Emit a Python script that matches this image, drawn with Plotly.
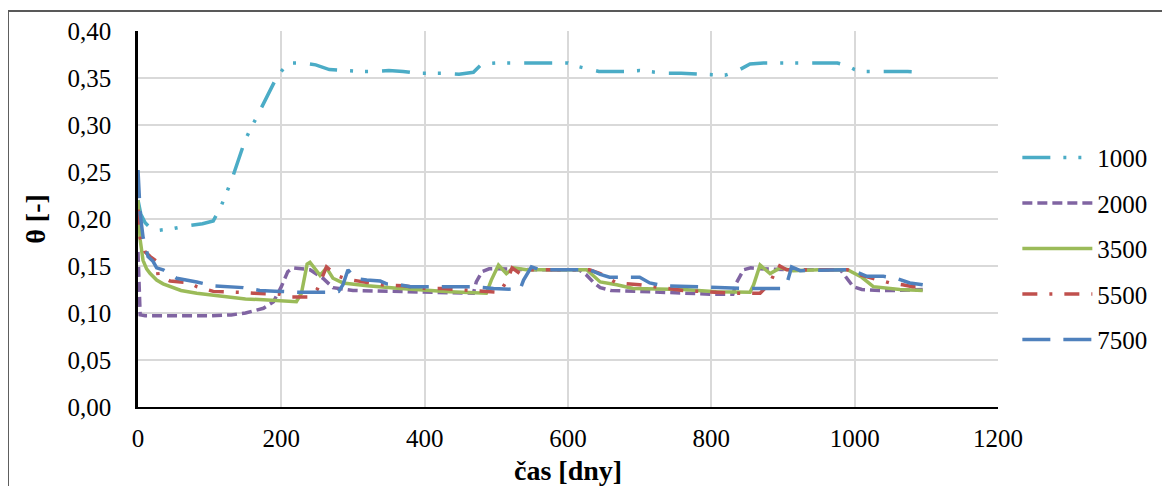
import plotly.graph_objects as go

# ---- data ----
days_1000 = [0, 4, 10, 18, 30, 50, 70, 90, 105, 115, 130, 150, 170, 193, 205, 216, 230, 248, 267, 286, 310, 328, 350, 370, 389, 428, 448, 468, 480, 500, 525, 560, 600, 615, 643, 664, 680, 700, 716, 736, 758, 780, 800, 819, 835, 854, 873, 914, 955, 976, 990, 1000, 1012, 1033, 1054, 1074, 1095]
theta_1000 = [0.22, 0.205, 0.196, 0.19, 0.188, 0.19, 0.193, 0.195, 0.198, 0.212, 0.24, 0.285, 0.315, 0.35, 0.362, 0.366, 0.366, 0.364, 0.359, 0.358, 0.357, 0.357, 0.358, 0.357, 0.355, 0.355, 0.354, 0.356, 0.365, 0.366, 0.366, 0.366, 0.366, 0.362, 0.357, 0.357, 0.357, 0.358, 0.357, 0.355, 0.355, 0.354, 0.354, 0.353, 0.357, 0.365, 0.366, 0.366, 0.366, 0.366, 0.363, 0.359, 0.357, 0.357, 0.357, 0.357, 0.356]

days_2000 = [0, 1, 3, 10, 50, 100, 130, 150, 175, 189, 200, 209, 217, 240, 258, 272, 300, 350, 412, 435, 468, 472, 480, 490, 501, 560, 615, 625, 635, 645, 660, 700, 760, 800, 830, 835, 845, 855, 868, 920, 980, 989, 998, 1010, 1035, 1060, 1095]
theta_2000 = [0.165, 0.13, 0.098, 0.097, 0.097, 0.097, 0.098, 0.1, 0.105, 0.112, 0.128, 0.144, 0.148, 0.146, 0.137, 0.127, 0.124, 0.123, 0.122, 0.121, 0.121, 0.133, 0.144, 0.147, 0.147, 0.146, 0.146, 0.141, 0.133, 0.127, 0.124, 0.123, 0.121, 0.12, 0.12, 0.132, 0.146, 0.148, 0.147, 0.146, 0.146, 0.137, 0.128, 0.125, 0.124, 0.124, 0.125]

days_3500 = [0, 3, 7, 12, 17, 26, 35, 45, 60, 82, 105, 128, 150, 175, 200, 221, 228, 236, 240, 254, 263, 272, 286, 320, 366, 400, 435, 486, 493, 503, 514, 524, 542, 580, 626, 645, 668, 691, 761, 807, 854, 859, 868, 882, 896, 914, 950, 990, 1010, 1026, 1063, 1095]
theta_3500 = [0.22, 0.178, 0.156, 0.147, 0.142, 0.135, 0.131, 0.128, 0.124, 0.121, 0.119, 0.117, 0.115, 0.114, 0.113, 0.112, 0.121, 0.152, 0.154, 0.140, 0.148, 0.137, 0.132, 0.129, 0.126, 0.124, 0.1227, 0.121, 0.135, 0.151, 0.142, 0.148, 0.146, 0.146, 0.146, 0.133, 0.13, 0.126, 0.125, 0.1225, 0.122, 0.13, 0.151, 0.142, 0.148, 0.145, 0.146, 0.146, 0.138, 0.128, 0.125, 0.124]

days_5500 = [0, 3, 10, 17, 26, 28, 45, 73, 82, 105, 142, 161, 198, 212, 240, 250, 263, 277, 291, 310, 340, 370, 403, 426, 463, 486, 505, 515, 522, 533, 547, 561, 600, 630, 645, 668, 700, 760, 830, 868, 882, 893, 905, 920, 990, 1000, 1010, 1030, 1049, 1067, 1081, 1095]
theta_5500 = [0.21, 0.18, 0.165, 0.16, 0.155, 0.14, 0.134, 0.132, 0.128, 0.123, 0.122, 0.121, 0.120, 0.117, 0.117, 0.125, 0.149, 0.14, 0.136, 0.134, 0.13, 0.129, 0.126, 0.126, 0.124, 0.123, 0.122, 0.135, 0.148, 0.142, 0.146, 0.146, 0.146, 0.146, 0.142, 0.132, 0.13, 0.124, 0.121, 0.121, 0.132, 0.151, 0.146, 0.146, 0.146, 0.143, 0.14, 0.136, 0.132, 0.13, 0.128, 0.128]

days_7500 = [0, 3, 7, 14, 21, 26, 35, 54, 82, 105, 147, 170, 198, 226, 268, 280, 286, 293, 303, 319, 338, 347, 366, 380, 426, 468, 496, 533, 538, 549, 561, 600, 630, 645, 658, 700, 714, 733, 770, 793, 830, 854, 891, 900, 905, 912, 924, 990, 998, 1017, 1040, 1058, 1077, 1095]
theta_7500 = [0.252, 0.206, 0.181, 0.16, 0.155, 0.148, 0.146, 0.137, 0.133, 0.129, 0.127, 0.124, 0.123, 0.122, 0.122, 0.123, 0.13, 0.146, 0.137, 0.135, 0.134, 0.131, 0.13, 0.128, 0.128, 0.128, 0.126, 0.125, 0.135, 0.149, 0.146, 0.146, 0.146, 0.141, 0.138, 0.138, 0.132, 0.129, 0.128, 0.128, 0.127, 0.126, 0.126, 0.126, 0.13, 0.149, 0.145, 0.146, 0.145, 0.139, 0.139, 0.137, 0.132, 0.13]

series_names = ["1000", "2000", "3500", "5500", "7500"]
x_ticks = [0, 200, 400, 600, 800, 1000, 1200]
y_ticks = [0.00, 0.05, 0.10, 0.15, 0.20, 0.25, 0.30, 0.35, 0.40]

# ---- styles ----
colors = ["#4BACC6", "#8064A2", "#9BBB59", "#C0504D", "#4F81BD"]
dashes = ["28px,13px,3px,12px,3px,14px", "10px,5px", "solid", "15px,12px,3px,12px", "28px,13px"]
data = [(days_1000, theta_1000), (days_2000, theta_2000), (days_3500, theta_3500),
        (days_5500, theta_5500), (days_7500, theta_7500)]

FONT = "Liberation Serif"

fig = go.Figure()
for name, (xs, ys), c, d in zip(series_names, data, colors, dashes):
    fig.add_trace(go.Scatter(x=xs, y=ys, name=name, mode="lines",
                             line=dict(color=c, width=3.5, dash=d),
                             legendgroup=name))

# the page body adds an 8px offset; the figure is sized/margined to compensate
fig.update_layout(
    width=1162, height=478,
    margin=dict(l=130, r=172, t=23, b=79, autoexpand=False),
    paper_bgcolor="white", plot_bgcolor="white",
    separators=", ",
    font=dict(family=FONT, size=25, color="black"),
    showlegend=True,
    legend=dict(x=1.0225, y=0.724, xanchor="left", yanchor="top",
                font=dict(family=FONT, size=25, color="black"),
                itemwidth=70, tracegroupgap=10, bgcolor="rgba(0,0,0,0)"),
    xaxis=dict(range=[0, 1200], tickvals=x_ticks, showgrid=True,
               gridcolor="#D9D9D9", gridwidth=1.5, showline=True,
               linecolor="black", linewidth=2, zeroline=False, ticks="",
               ticklabelstandoff=8, automargin=False),
    yaxis=dict(range=[0, 0.40], tickvals=y_ticks, tickformat=".2f",
               showgrid=True, gridcolor="#D9D9D9", gridwidth=1.5,
               showline=True, linecolor="black", linewidth=2.5,
               zeroline=False, ticks="", ticklabelstandoff=19,
               automargin=False),
    annotations=[
        dict(text="<b>čas [dny]</b>", xref="paper", yref="paper", x=0.5,
             y=-0.17, xanchor="center", yanchor="middle", showarrow=False,
             font=dict(family=FONT, size=28, color="black")),
        dict(text="<b>θ [-]</b>", xref="paper", yref="paper", x=-0.12,
             y=0.5, xanchor="center", yanchor="middle", showarrow=False,
             textangle=-90, font=dict(family=FONT, size=28, color="black")),
    ],
    shapes=[
        dict(type="rect", xref="paper", yref="paper", x0=-0.1512, x1=1.21,
             y0=-0.25, y1=1.0532, line=dict(color="#595959", width=2),
             fillcolor="rgba(0,0,0,0)", layer="below"),
    ],
)

fig.write_html("out.html")
